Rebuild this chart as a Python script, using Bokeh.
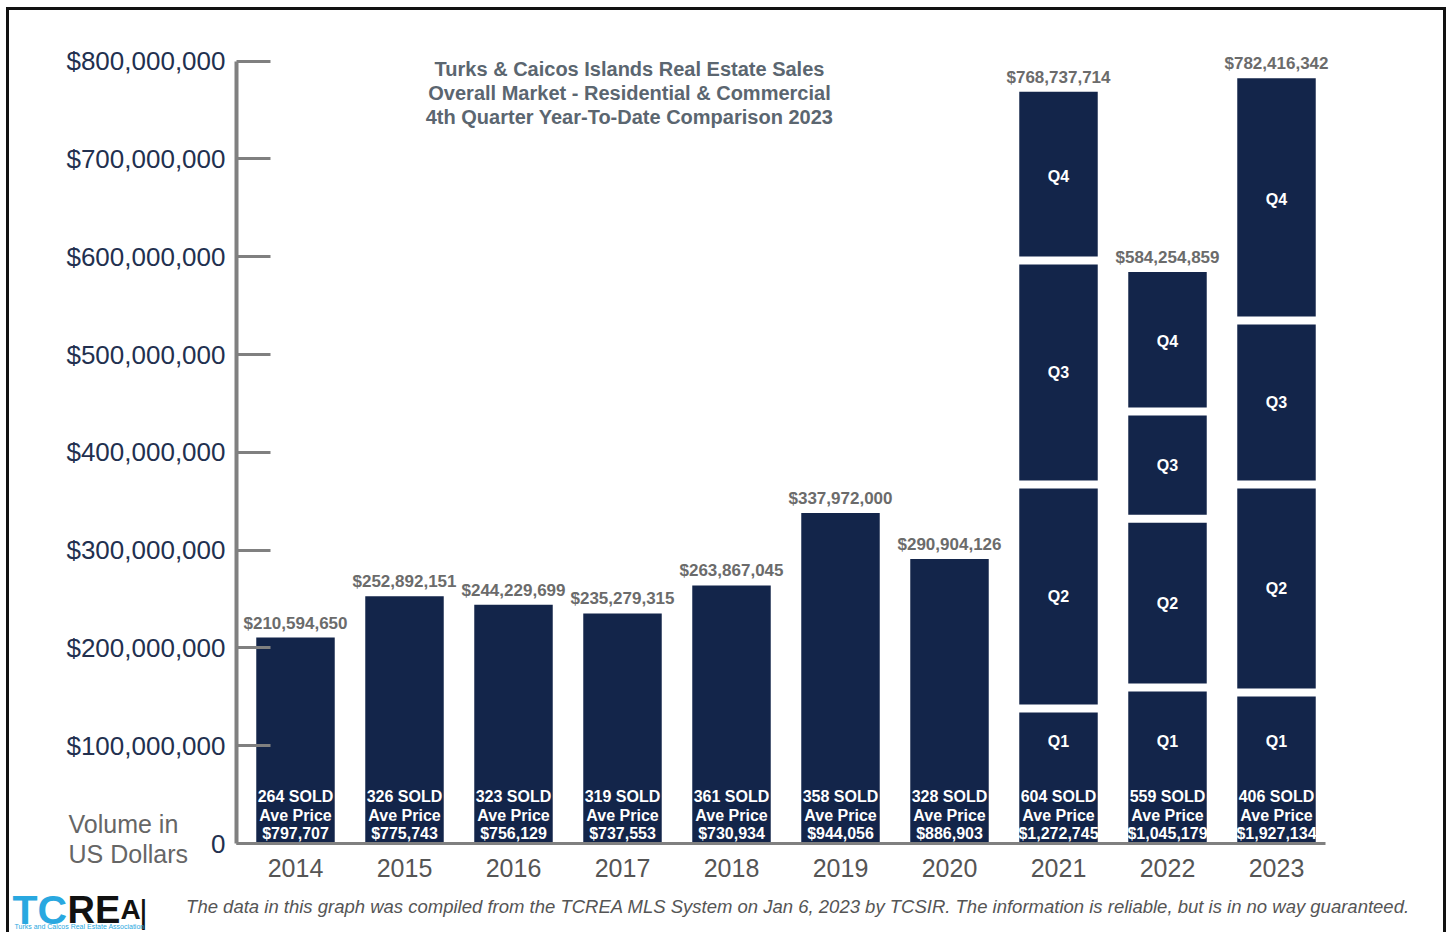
from bokeh.plotting import figure
from bokeh.models import Range1d, FixedTicker, NumeralTickFormatter, Label, ColumnDataSource
from bokeh.core.properties import value
from bokeh.embed import file_html
from bokeh.resources import INLINE

# ---------------- data ----------------
years = ["2014", "2015", "2016", "2017", "2018", "2019", "2020", "2021", "2022", "2023"]
totals = [210594650, 252892151, 244229699, 235279315, 263867045,
          337972000, 290904126, 768737714, 584254859, 782416342]
sold = [264, 326, 323, 319, 361, 358, 328, 604, 559, 406]
ave_price = [797707, 775743, 756129, 737553, 730934, 944056, 886903, 1272745, 1045179, 1927134]

q_years = ["2021", "2022", "2023"]
q1 = [138.0e6, 159.5e6, 154.4e6]
q2 = [229.0e6, 172.5e6, 212.6e6]
q3 = [229.0e6, 109.7e6, 167.8e6]
# Q4 is the remainder of each year's total

y_ticks = [0, 100000000, 200000000, 300000000, 400000000,
           500000000, 600000000, 700000000, 800000000]

title_lines = ["Turks & Caicos Islands Real Estate Sales",
               "Overall Market - Residential & Commercial",
               "4th Quarter Year-To-Date Comparison 2023"]
axis_caption = ["Volume in", "US Dollars"]
footer = ("The data in this graph was compiled from the TCREA MLS System on Jan 6, 2023 by TCSIR.  "
          "The information is reliable, but is in no way guaranteed.")

# ---------------- style / geometry ----------------
NAVY = "#13254a"
AXIS_GREY = "#808080"
FONT = "Liberation Sans"

OX, OY = 9, 10            # canvas origin on the page (after css margin + border)
CW, CH = 1440, 925        # canvas size
PX0, PXS = 295, 109.0     # page x of first bar centre, px per category step
PY0, PYS = 843, 0.978e-6  # page y of zero, px per dollar
X0 = (OX - PX0) / PXS
X1 = (OX + CW - PX0) / PXS
Y1 = (PY0 - OY) / PYS
Y0 = -(OY + CH - PY0) / PYS


def dx(px):
    return (px - PX0) / PXS


def dy(py):
    return (PY0 - py) / PYS


xs = list(range(len(years)))
src = ColumnDataSource(dict(
    x=xs,
    total=totals,
    total_label=[f"${v:,}" for v in totals],
    sold_label=[f"{s} SOLD" for s in sold],
    ave_label=["Ave Price"] * len(years),
    price_label=[f"${a:,}" for a in ave_price],
))

qx = [years.index(y) for y in q_years]
qtot = [totals[i] for i in qx]
b1 = list(q1)
b2 = [a + b for a, b in zip(q1, q2)]
b3 = [a + b + c for a, b, c in zip(q1, q2, q3)]

p = figure(width=CW, height=CH, x_range=Range1d(X0, X1), y_range=Range1d(Y0, Y1),
           output_backend="svg", toolbar_location=None, title=None,
           min_border_left=0, min_border_right=0, min_border_top=0, min_border_bottom=0)
p.styles = {"margin-left": "6px", "margin-top": "7px",
            "border-top": "3px solid #111", "border-left": "3px solid #111",
            "border-right": "3px solid #111"}
p.xgrid.grid_line_color = None
p.ygrid.grid_line_color = None
p.outline_line_color = None
p.background_fill_color = "white"
p.border_fill_color = "white"

# bars
p.vbar(x="x", top="total", width=0.72, source=src, fill_color=NAVY, line_color=None)

# white gaps between quarters
p.rect(x=qx * 3, y=b1 + b2 + b3, width=0.76, height=8, height_units="screen",
       fill_color="white", line_color=None)

# value labels above bars
p.text(x="x", y="total", text="total_label", source=src, text_align="center",
       text_baseline="bottom", y_offset=-5, text_font=value(FONT), text_font_style="bold",
       text_font_size="17px", text_color="#6b6b6b")

# labels inside bars
for col, off in (("sold_label", -47), ("ave_label", -28), ("price_label", -10)):
    p.text(x="x", y=0, text=col, source=src, text_align="center", text_baseline="middle",
           y_offset=off, text_font=value(FONT), text_font_style="bold",
           text_font_size="16px", text_color="white")

# quarter labels
qsrc = ColumnDataSource(dict(
    x=qx * 3,
    y=[(a + b) / 2 for a, b in zip(b1, b2)] + [(a + b) / 2 for a, b in zip(b2, b3)]
      + [(a + b) / 2 for a, b in zip(b3, qtot)],
    t=["Q2"] * 3 + ["Q3"] * 3 + ["Q4"] * 3,
))
p.text(x="x", y="y", text="t", source=qsrc, text_align="center", text_baseline="middle",
       text_font=value(FONT), text_font_style="bold", text_font_size="16px", text_color="white")
p.text(x=qx, y=[0] * len(qx), text=["Q1"] * len(qx), text_align="center", text_baseline="middle",
       y_offset=-102, text_font=value(FONT), text_font_style="bold", text_font_size="16px",
       text_color="white")

# axes (fixed inside the frame so the whole canvas is drawable)
p.yaxis.fixed_location = dx(236)
p.yaxis.ticker = FixedTicker(ticks=y_ticks)
p.yaxis.formatter = NumeralTickFormatter(format="$0,0")
p.yaxis.major_label_overrides = {0: "0"}
p.yaxis.bounds = (0, y_ticks[-1])
p.yaxis.axis_line_color = AXIS_GREY
p.yaxis.axis_line_width = 4
p.yaxis.major_tick_in = 34
p.yaxis.major_tick_out = 0
p.yaxis.major_tick_line_width = 3
p.yaxis.major_tick_line_color = AXIS_GREY
p.yaxis.minor_tick_line_color = None
p.yaxis.major_label_text_font = FONT
p.yaxis.major_label_text_font_size = "26px"
p.yaxis.major_label_text_color = "#22304f"
p.yaxis.major_label_standoff = 11

p.xaxis.fixed_location = 0
p.xaxis.bounds = (dx(236), dx(1325))
p.xaxis.ticker = FixedTicker(ticks=xs)
p.xaxis.major_label_overrides = {i: y for i, y in zip(xs, years)}
p.xaxis.axis_line_color = AXIS_GREY
p.xaxis.axis_line_width = 3
p.xaxis.major_tick_line_color = None
p.xaxis.minor_tick_line_color = None
p.xaxis.major_label_text_font = FONT
p.xaxis.major_label_text_font_size = "25px"
p.xaxis.major_label_text_color = "#555555"
p.xaxis.major_label_standoff = 9

# title
for line, py in zip(title_lines, (68, 92, 116)):
    p.add_layout(Label(x=dx(629), y=dy(py), text=line, text_align="center",
                       text_baseline="middle", text_font=FONT, text_font_style="bold",
                       text_font_size="20px", text_color="#5b6670"))

# axis caption
for line, py in zip(axis_caption, (823, 853)):
    p.add_layout(Label(x=dx(68), y=dy(py), text=line, text_align="left",
                       text_baseline="middle", text_font=FONT, text_font_size="25px",
                       text_color="#666666"))

# footer
p.add_layout(Label(x=dx(800), y=dy(906), text=footer, text_align="center",
                   text_baseline="middle", text_font=FONT, text_font_style="italic",
                   text_font_size="18.5px", text_color="#555555"))

# logo
p.add_layout(Label(x=dx(12), y=dy(909), text="TC", text_align="left", text_baseline="middle",
                   text_font=FONT, text_font_style="bold", text_font_size="41px",
                   text_color="#29a8e0"))
p.add_layout(Label(x=dx(67), y=dy(909), text="RE", text_align="left", text_baseline="middle",
                   text_font=FONT, text_font_style="bold", text_font_size="38px",
                   text_color="#111111"))
p.add_layout(Label(x=dx(120), y=dy(909), text="A", text_align="left", text_baseline="middle",
                   text_font=FONT, text_font_style="bold", text_font_size="28px",
                   text_color="#111111"))
p.add_layout(Label(x=dx(143), y=dy(910), text="|", text_align="center", text_baseline="middle",
                   text_font=FONT, text_font_size="34px", text_color="#111111"))
p.add_layout(Label(x=dx(14), y=dy(926), text="Turks and Caicos Real Estate Association",
                   text_align="left", text_baseline="middle", text_font=FONT,
                   text_font_size="7px", text_color="#29a8e0"))

open("out.html", "w").write(file_html(p, INLINE))
